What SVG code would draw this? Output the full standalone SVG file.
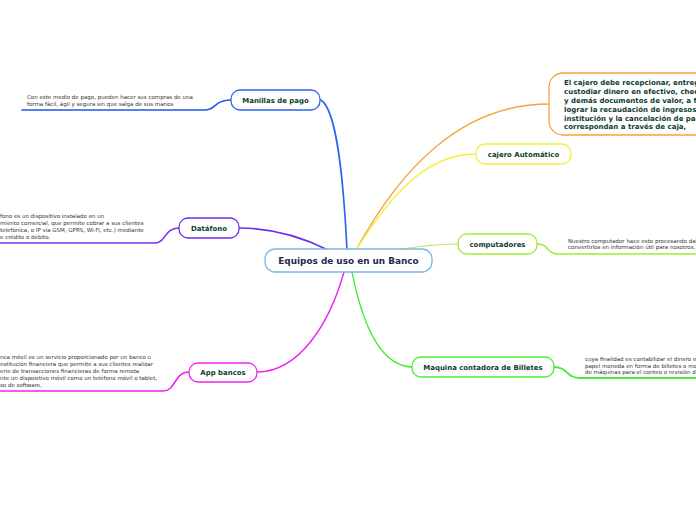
<svg xmlns="http://www.w3.org/2000/svg" width="696" height="520" viewBox="0 0 696 520">
<style>
.node{fill:#fff;stroke-width:1.3}
.lbl{font-family:"DejaVu Sans",Verdana,sans-serif;font-weight:bold;font-size:6.95px;fill:#0e3b2e;text-anchor:middle}
.body{font-family:"DejaVu Sans",Verdana,sans-serif;font-size:5.5px;fill:#333}
.big{font-family:"DejaVu Sans",Verdana,sans-serif;font-weight:bold;font-size:7px;fill:#0e3b2e}
.c{fill:none;stroke-linecap:round}
</style>
<rect width="696" height="520" fill="#fff"/>
<g id="connectors">
<path class="c" d="M347,250 C343,170 336,110 321,100" stroke="#2b62f0" stroke-width="1.6"/>
<path class="c" d="M328,250 C300,236 270,228 239,228" stroke="#6c2ff0" stroke-width="1.6"/>
<path class="c" d="M344,272 C330,322 300,372 257,372" stroke="#ee22ee" stroke-width="1.4"/>
<path class="c" d="M356,250 C400,170 460,104 549,104" stroke="#f7a33c" stroke-width="1.3"/>
<path class="c" d="M356,250 C395,188 430,154 476,154" stroke="#f2ef3a" stroke-width="1.3"/>
<path class="c" d="M395,250 C420,246 440,244 458,244" stroke="#a2ea4a" stroke-width="1.2"/>
<path class="c" d="M352,272 C362,322 380,367 413,367" stroke="#44ee33" stroke-width="1.3"/>
<path class="c" d="M231,100 C214,100 216,110 205,110 L22,110" stroke="#2255ee" stroke-width="1.6"/>
<path class="c" d="M179,228 C164,228 166,243 155,243 L0,243" stroke="#7733ee" stroke-width="1.6"/>
<path class="c" d="M189,372 C174,372 176,391 163,391 L0,391" stroke="#ee22ee" stroke-width="1.6"/>
<path class="c" d="M537,244 C550,244 546,254 558,254 L696,254" stroke="#99ee33" stroke-width="1.6"/>
<path class="c" d="M554,367 C568,367 566,378 580,378 L696,378" stroke="#44ee33" stroke-width="1.8"/>
</g>
<g id="center">
<rect class="node" x="265" y="249" width="167" height="23" rx="10" stroke="#7fb6e3"/>
<text x="348.5" y="264" font-family="DejaVu Sans,Verdana,sans-serif" font-weight="bold" font-size="8.9" fill="#1c2b4d" text-anchor="middle">Equipos de uso en un Banco</text>
</g>
<g id="manillas">
<rect class="node" x="231" y="90" width="89" height="20" rx="9" stroke="#2b62f0"/>
<text class="lbl" x="275.5" y="102.5">Manillas de pago</text>
</g>
<g id="manillas-text">
<text class="body" x="27" y="99">Con este medio de pago, pueden hacer sus compras de una</text>
<text class="body" x="27" y="106">forma fácil, ágil y segura sin que salga de sus manos</text>
</g>
<g id="datafono">
<rect class="node" x="179" y="218" width="60" height="20" rx="9" stroke="#6c2ff0"/>
<text class="lbl" x="209" y="230.5">Datáfono</text>
</g>
<g id="datafono-text">
<text class="body" x="0" y="218">fono es un dispositivo instalado en un</text>
<text class="body" x="0" y="225">miento comercial, que permite cobrar a sus clientes</text>
<text class="body" x="0" y="232">telefónica, o IP vía GSM, GPRS, Wi-Fi, etc.) mediante</text>
<text class="body" x="0" y="239">e crédito o débito.</text>
</g>
<g id="app">
<rect class="node" x="189" y="363" width="68" height="19" rx="9" stroke="#ee22ee"/>
<text class="lbl" x="223" y="375">App bancos</text>
</g>
<g id="app-text">
<text class="body" x="0" y="359">nca móvil es un servicio proporcionado por un banco u</text>
<text class="body" x="0" y="366">nstitución financiera que permite a sus clientes realizar</text>
<text class="body" x="0" y="373">erie de transacciones financieras de forma remota</text>
<text class="body" x="0" y="380">nte un dispositivo móvil como un teléfono móvil o tablet,</text>
<text class="body" x="0" y="387">so de software,</text>
</g>
<g id="cajero-desc">
<rect class="node" x="549" y="73" width="170" height="62" rx="14" stroke="#f7a33c"/>
<text class="big" x="564" y="85">El cajero debe recepcionar, entreg</text>
<text class="big" x="564" y="94">custodiar dinero en efectivo, chec</text>
<text class="big" x="564" y="103">y demás documentos de valor, a f</text>
<text class="big" x="564" y="112">lograr la recaudación de ingresos</text>
<text class="big" x="564" y="120.5">institución y la cancelación de pag</text>
<text class="big" x="564" y="129">correspondan a través de caja,</text>
</g>
<g id="cajero">
<rect class="node" x="476" y="144" width="95" height="20" rx="9" stroke="#f2ef3a"/>
<text class="lbl" x="523.5" y="156.5">cajero Automático</text>
</g>
<g id="computadores">
<rect class="node" x="458" y="234" width="79" height="20" rx="9" stroke="#99ee33"/>
<text class="lbl" x="497.5" y="246.5">computadores</text>
</g>
<g id="computadores-text">
<text class="body" x="568" y="243">Nuestro computador hace esto procesando dat</text>
<text class="body" x="568" y="249">convertirlos en información útil para nosotros,</text>
</g>
<g id="maquina">
<rect class="node" x="412" y="357" width="142" height="20" rx="9" stroke="#44ee33"/>
<text class="lbl" x="483" y="369.5">Maquina contadora de Billetes</text>
</g>
<g id="maquina-text">
<text class="body" x="585" y="361">cuya finalidad es contabilizar el dinero e</text>
<text class="body" x="585" y="368">papel moneda en forma de billetes o mo</text>
<text class="body" x="585" y="374">de máquinas para el conteo o revisión d</text>
</g>
</svg>
